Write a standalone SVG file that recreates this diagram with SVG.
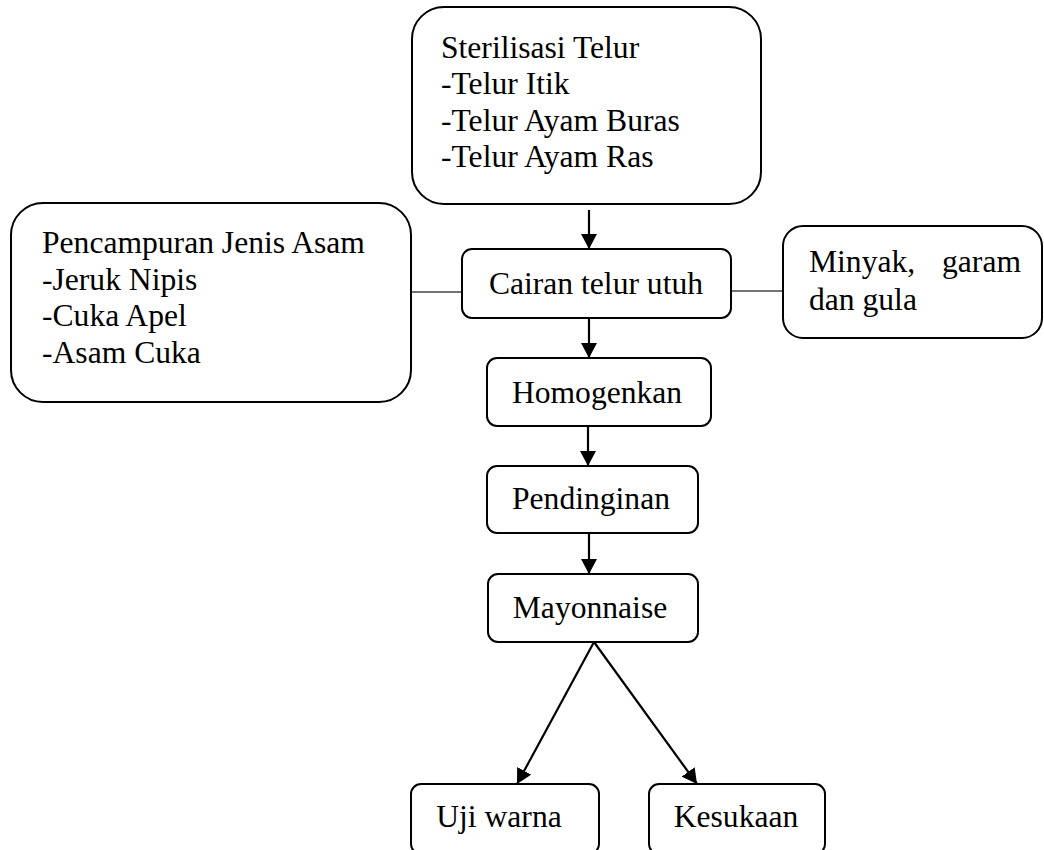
<svg xmlns="http://www.w3.org/2000/svg" width="1044" height="850" viewBox="0 0 1044 850">
<style>
.box{fill:#fff;stroke:#000;stroke-width:2}
.t{font-family:'Liberation Serif','DejaVu Serif',serif;font-size:31.6px;fill:#000}
.arr{stroke:#000;stroke-width:2.2;fill:none;marker-end:url(#ah)}
.ln{stroke:#444;stroke-width:1.6;fill:none}
</style>
<defs>
<marker id="ah" markerWidth="15" markerHeight="16" refX="15" refY="8" orient="auto" markerUnits="userSpaceOnUse" viewBox="0 0 15 16">
<path d="M0,0 L15,8 L0,16 Z" fill="#000"/>
</marker>
</defs>
<rect width="1044" height="850" fill="#fff"/>
<g id="connectors">
<line class="arr" x1="589" y1="210" x2="589" y2="249"/>
<line class="ln" x1="411" y1="292" x2="462" y2="292"/>
<line class="ln" x1="731" y1="291" x2="783" y2="291"/>
<line class="arr" x1="589" y1="319" x2="589" y2="358"/>
<line class="arr" x1="588" y1="426" x2="588" y2="466"/>
<line class="arr" x1="589" y1="533" x2="589" y2="574"/>
<line class="arr" x1="594" y1="642" x2="517" y2="784"/>
<line class="arr" x1="594" y1="642" x2="697" y2="784"/>
</g>
<g id="n-sterilisasi">
<rect class="box" x="412" y="7" width="349" height="197" rx="32"/>
<text class="t" font-family="Liberation Serif, serif" x="441" y="58">Sterilisasi Telur</text>
<text class="t" x="441" y="94">-Telur Itik</text>
<text class="t" x="441" y="131">-Telur Ayam Buras</text>
<text class="t" x="441" y="167">-Telur Ayam Ras</text>
</g>
<g id="n-pencampuran">
<rect class="box" x="11" y="203" width="400" height="199" rx="32"/>
<text class="t" x="42" y="253">Pencampuran Jenis Asam</text>
<text class="t" x="42" y="290">-Jeruk Nipis</text>
<text class="t" x="42" y="326">-Cuka Apel</text>
<text class="t" x="42" y="363">-Asam Cuka</text>
</g>
<g id="n-cairan">
<rect class="box" x="462" y="249" width="269" height="69" rx="10"/>
<text class="t" x="596" y="294" text-anchor="middle">Cairan telur utuh</text>
</g>
<g id="n-minyak">
<rect class="box" x="783" y="226" width="259" height="112" rx="20"/>
<text class="t" x="809" y="272">Minyak,</text>
<text class="t" x="1021" y="272" text-anchor="end">garam</text>
<text class="t" x="809" y="310">dan gula</text>
</g>
<g id="n-homogenkan">
<rect class="box" x="487" y="358" width="224" height="68" rx="10"/>
<text class="t" x="597" y="403" text-anchor="middle">Homogenkan</text>
</g>
<g id="n-pendinginan">
<rect class="box" x="487" y="466" width="211" height="67" rx="10"/>
<text class="t" x="591" y="509" text-anchor="middle">Pendinginan</text>
</g>
<g id="n-mayonnaise">
<rect class="box" x="488" y="574" width="210" height="68" rx="10"/>
<text class="t" x="590" y="618" text-anchor="middle">Mayonnaise</text>
</g>
<g id="n-ujiwarna">
<rect class="box" x="411" y="784" width="188" height="70" rx="10"/>
<text class="t" x="499" y="827" text-anchor="middle">Uji warna</text>
</g>
<g id="n-kesukaan">
<rect class="box" x="649" y="784" width="176" height="70" rx="10"/>
<text class="t" x="736" y="827" text-anchor="middle">Kesukaan</text>
</g>
</svg>
